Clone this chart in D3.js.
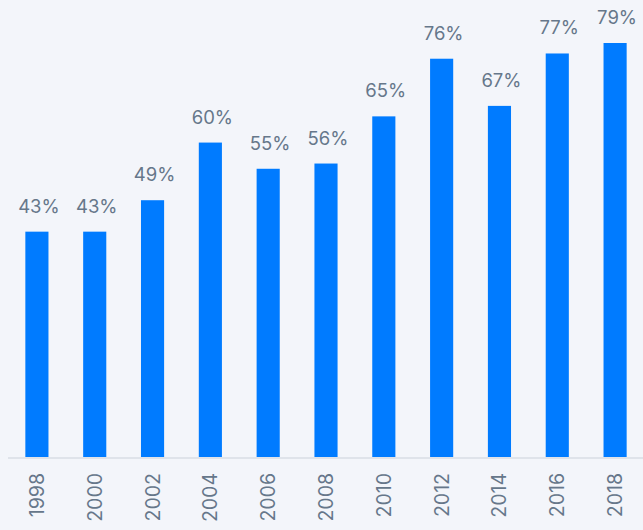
<!DOCTYPE html>
<html>
<head>
<meta charset="utf-8">
<script src="https://cdn.jsdelivr.net/npm/d3@7"></script>
<style>
  html, body { margin: 0; padding: 0; background: #f3f5fa; }
  svg { display: block; }
  text { font-family: Inter, "Open Sans", sans-serif; }
</style>
</head>
<body>
<div id="chart"></div>
<script>
// Share by survey year
const years = ["1998", "2000", "2002", "2004", "2006", "2008", "2010", "2012", "2014", "2016", "2018"];
const shares = [43, 43, 49, 60, 55, 56, 65, 76, 67, 77, 79];

const width = 643, height = 530;
const baseY = 457, topY = 43;

const svg = d3.select("#chart").append("svg")
  .attr("width", width)
  .attr("height", height);

svg.append("rect")
  .attr("width", width).attr("height", height)
  .attr("fill", "#f3f5fa");

const x = d3.scaleBand()
  .domain(years)
  .range([8, 644])
  .paddingInner(0.6)
  .paddingOuter(0.3);

const y = d3.scaleLinear()
  .domain([0, 79])
  .range([baseY, topY]);

const data = years.map((yr, i) => ({ year: yr, value: shares[i] }));

svg.append("g")
  .selectAll("rect")
  .data(data)
  .join("rect")
  .attr("x", d => x(d.year))
  .attr("y", d => y(d.value))
  .attr("width", x.bandwidth())
  .attr("height", d => y(0) - y(d.value))
  .attr("fill", "#007bff");

// baseline
svg.append("line")
  .attr("x1", 8).attr("x2", width)
  .attr("y1", baseY + 1).attr("y2", baseY + 1)
  .attr("stroke", "#dfe3ea")
  .attr("stroke-width", 2);

// value labels
svg.append("g")
  .selectAll("text")
  .data(data)
  .join("text")
  .attr("x", d => x(d.year) + x.bandwidth() / 2 + 2)
  .attr("y", d => y(d.value) - 19)
  .attr("text-anchor", "middle")
  .attr("fill", "#66778a")
  .attr("font-size", 18.5)
  .attr("font-weight", 400)
  .text(d => d.value + "%");

// year labels, rotated
const xAxis = svg.append("g")
  .attr("transform", `translate(0,${baseY + 16})`)
  .call(d3.axisBottom(x).tickSize(0).tickPadding(0));
xAxis.select(".domain").remove();
xAxis.selectAll("text")
  .attr("transform", "rotate(-90)")
  .attr("text-anchor", "end")
  .attr("x", 0)
  .attr("y", 0)
  .attr("dy", "0.36em")
  .attr("dx", "0")
  .attr("fill", "#66778a")
  .attr("font-size", 19.5)
  .attr("font-weight", 400)
  .style("font-family", "Inter, 'Open Sans', sans-serif");
</script>
</body>
</html>
